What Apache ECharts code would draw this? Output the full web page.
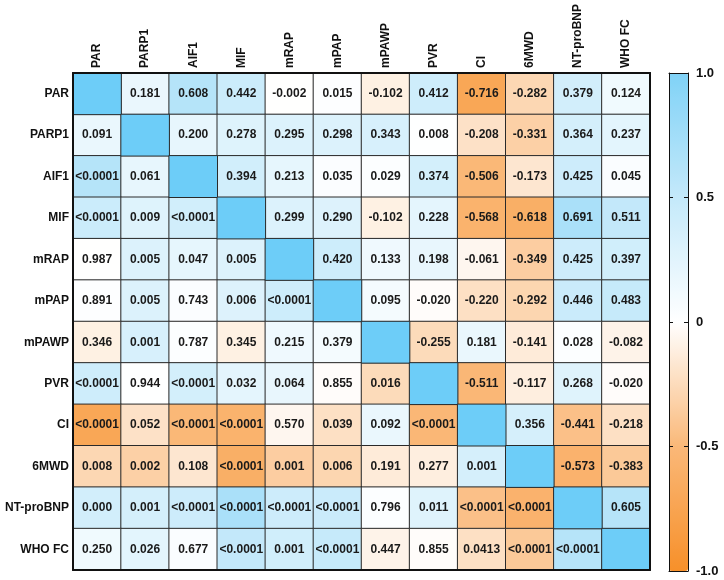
<!DOCTYPE html>
<html>
<head>
<meta charset="utf-8">
<script src="https://cdn.jsdelivr.net/npm/echarts@6/dist/echarts.min.js"></script>
<style>
html,body{margin:0;padding:0;background:#fff;}
#chart{width:724px;height:580px;}
</style>
</head>
<body>
<div id="chart"></div>
<script>
// Variables (row/column order)
var categories = ['PAR','PARP1','AIF1','MIF','mRAP','mPAP','mPAWP','PVR','CI','6MWD','NT-proBNP','WHO FC'];

// Upper triangle: correlation coefficients r (row i, columns j > i)
var rUpper = [
  [0.181, 0.608, 0.442, -0.002, 0.015, -0.102, 0.412, -0.716, -0.282, 0.379, 0.124],
  [0.200, 0.278, 0.295, 0.298, 0.343, 0.008, -0.208, -0.331, 0.364, 0.237],
  [0.394, 0.213, 0.035, 0.029, 0.374, -0.506, -0.173, 0.425, 0.045],
  [0.299, 0.290, -0.102, 0.228, -0.568, -0.618, 0.691, 0.511],
  [0.420, 0.133, 0.198, -0.061, -0.349, 0.425, 0.397],
  [0.095, -0.020, -0.220, -0.292, 0.446, 0.483],
  [-0.255, 0.181, -0.141, 0.028, -0.082],
  [-0.511, -0.117, 0.268, -0.020],
  [0.356, -0.441, -0.218],
  [-0.573, -0.383],
  [0.605],
  []
];

// Lower triangle: p-values (row i, columns j < i)
var pLower = [
  [],
  ['0.091'],
  ['<0.0001','0.061'],
  ['<0.0001','0.009','<0.0001'],
  ['0.987','0.005','0.047','0.005'],
  ['0.891','0.005','0.743','0.006','<0.0001'],
  ['0.346','0.001','0.787','0.345','0.215','0.379'],
  ['<0.0001','0.944','<0.0001','0.032','0.064','0.855','0.016'],
  ['<0.0001','0.052','<0.0001','<0.0001','0.570','0.039','0.092','<0.0001'],
  ['0.008','0.002','0.108','<0.0001','0.001','0.006','0.191','0.277','0.001'],
  ['0.000','0.001','<0.0001','<0.0001','<0.0001','<0.0001','0.796','0.011','<0.0001','<0.0001'],
  ['0.250','0.026','0.677','<0.0001','0.001','<0.0001','0.447','0.855','0.0413','<0.0001','<0.0001']
];

// Colour bar ticks
var barTicks = [1, 0.5, 0, -0.5, -1];
var barTickLabels = ['1.0', '0.5', '0', '-0.5', '-1.0'];

var n = categories.length;
var offData = [];
var diagData = [];
for (var i = 0; i < n; i++) {
  for (var j = 0; j < n; j++) {
    if (i === j) {
      diagData.push({ name: '', value: [j, i, 1] });
    } else if (i < j) {
      var r = rUpper[i][j - i - 1];
      offData.push({ name: r.toFixed(3), value: [j, i, r] });
    } else {
      var r2 = rUpper[j][i - j - 1];
      offData.push({ name: pLower[i][j], value: [j, i, r2] });
    }
  }
}

var FONT = '"Liberation Sans", Arial, sans-serif';
var chart = echarts.init(document.getElementById('chart'), null, { renderer: 'canvas' });

var gridL = 73, gridT = 73, gridW = 577, gridH = 497;

var option = {
  backgroundColor: '#ffffff',
  animation: false,
  grid: [
    { left: gridL, top: gridT, width: gridW, height: gridH },
    { left: 669, top: 73, width: 19, height: 498 }
  ],
  xAxis: [
    {
      type: 'category', data: categories, gridIndex: 0, position: 'top', z: 10,
      axisLine: { show: true, lineStyle: { color: '#111', width: 2 } },
      axisTick: { show: false },
      axisLabel: { rotate: -90, margin: 5, color: '#111', fontFamily: FONT, fontWeight: 'bold', fontSize: 12 },
      splitLine: { show: false }
    },
    {
      type: 'category', data: categories, gridIndex: 0, position: 'bottom', z: 10,
      axisLine: { show: true, lineStyle: { color: '#111', width: 2 } },
      axisTick: { show: false }, axisLabel: { show: false }, splitLine: { show: false }
    },
    {
      type: 'value', gridIndex: 1, position: 'top', min: 0, max: 1, z: 10,
      axisLine: { show: true, onZero: false, lineStyle: { color: '#111', width: 1 } },
      axisTick: { show: false }, axisLabel: { show: false }, splitLine: { show: false }
    },
    {
      type: 'value', gridIndex: 1, position: 'bottom', min: 0, max: 1, z: 10,
      axisLine: { show: true, onZero: false, lineStyle: { color: '#111', width: 1 } },
      axisTick: { show: false }, axisLabel: { show: false }, splitLine: { show: false }
    }
  ],
  yAxis: [
    {
      type: 'category', data: categories, gridIndex: 0, inverse: true, position: 'left', z: 10,
      axisLine: { show: true, lineStyle: { color: '#111', width: 2 } },
      axisTick: { show: false },
      axisLabel: { margin: 4, color: '#111', fontFamily: FONT, fontWeight: 'bold', fontSize: 12 },
      splitLine: { show: false }
    },
    {
      type: 'category', data: categories, gridIndex: 0, inverse: true, position: 'right', z: 10,
      axisLine: { show: true, lineStyle: { color: '#111', width: 2 } },
      axisTick: { show: false }, axisLabel: { show: false }, splitLine: { show: false }
    },
    {
      type: 'value', gridIndex: 1, position: 'left', min: -1, max: 1, interval: 0.5, z: 10,
      axisLine: { show: true, onZero: false, lineStyle: { color: '#111', width: 1 } },
      axisTick: { show: true, inside: true, length: 4, lineStyle: { color: '#111' } },
      axisLabel: { show: false }, splitLine: { show: false }
    },
    {
      type: 'value', gridIndex: 1, position: 'right', min: -1, max: 1, interval: 0.5, z: 10,
      axisLine: { show: true, onZero: false, lineStyle: { color: '#111', width: 1 } },
      axisTick: { show: true, inside: true, length: 4, lineStyle: { color: '#111' } },
      axisLabel: {
        show: true, margin: 8, color: '#111', fontFamily: FONT, fontWeight: 'bold', fontSize: 13,
        formatter: function (v) {
          for (var k = 0; k < barTicks.length; k++) {
            if (Math.abs(barTicks[k] - v) < 1e-9) return barTickLabels[k];
          }
          return '';
        }
      },
      splitLine: { show: false }
    }
  ],
  visualMap: {
    type: 'continuous',
    seriesIndex: 0,
    min: -1, max: 1,
    calculable: false,
    show: true,
    orient: 'vertical',
    left: 669, top: 73,
    itemWidth: 19, itemHeight: 498,
    padding: 0,
    text: null,
    showLabel: false,
    inRange: { color: ['#F7902A', '#FAB878', '#FFFFFF', '#C4E9FA', '#80D2F7'] }
  },
  series: [
    {
      type: 'heatmap',
      xAxisIndex: 0, yAxisIndex: 0,
      data: offData,
      itemStyle: { borderColor: '#2a2a2a', borderWidth: 1 },
      label: {
        show: true, color: '#1a1a1a', fontFamily: FONT, fontWeight: 'bold', fontSize: 12,
        formatter: function (p) { return p.name; }
      },
      emphasis: { disabled: true }
    },
    {
      type: 'heatmap',
      xAxisIndex: 0, yAxisIndex: 0,
      data: diagData,
      itemStyle: { color: '#6DCDF8', borderColor: '#2a2a2a', borderWidth: 1 },
      label: { show: false },
      emphasis: { disabled: true }
    }
  ]
};
chart.setOption(option);
</script>
</body>
</html>
